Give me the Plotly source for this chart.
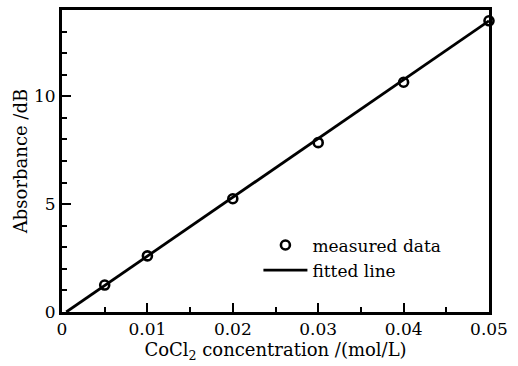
import plotly.graph_objects as go

conc = [0.005, 0.01, 0.02, 0.03, 0.04, 0.05]
absorbance = [1.25, 2.6, 5.25, 7.85, 10.65, 13.5]
fit_x = [0.0005, 0.05]
fit_y = [0.0, 13.5]

tick_font = dict(family="DejaVu Serif", size=17, color="black")
title_font = dict(family="DejaVu Serif", size=18, color="black")

fig = go.Figure()
fig.add_trace(go.Scatter(x=conc, y=absorbance, mode="markers", name="measured data",
                         marker=dict(symbol="circle-open", size=9, color="black", line=dict(width=2.6)),
                         cliponaxis=False))
fig.add_trace(go.Scatter(x=fit_x, y=fit_y, mode="lines", name="fitted line",
                         line=dict(color="black", width=2.8)))

axis_common = dict(showline=True, linecolor="black", linewidth=3, mirror=True,
                   ticks="inside", tickcolor="black", tickwidth=2, ticklen=9,
                   showgrid=False, zeroline=False, tickfont=tick_font)

fig.update_xaxes(range=[0, 0.05], tickvals=[0, 0.01, 0.02, 0.03, 0.04, 0.05],
                 ticktext=["0", "0.01", "0.02", "0.03", "0.04", "0.05"],
                 minor=dict(ticks="inside", dtick=0.005, tick0=0, ticklen=5, tickwidth=2, tickcolor="black"),
                 title=dict(text="CoCl<sub>2</sub> concentration /(mol/L)", font=title_font, standoff=0),
                 **axis_common)
fig.update_yaxes(range=[0, 14], tickvals=[0, 5, 10], ticktext=["0", "5", "10"],
                 minor=dict(ticks="inside", dtick=1, tick0=0, ticklen=5, tickwidth=2, tickcolor="black"),
                 title=dict(text="Absorbance /dB", font=title_font, standoff=2),
                 **axis_common)

fig.update_layout(width=518, height=366,
                  margin=dict(l=62, r=29, t=7, b=54),
                  paper_bgcolor="white", plot_bgcolor="white",
                  font=tick_font, showlegend=True,
                  legend=dict(x=0.46, y=0.28, xanchor="left", yanchor="top",
                              bgcolor="rgba(0,0,0,0)", font=tick_font,
                              tracegroupgap=0, itemwidth=44))
fig.write_html("out.html")
